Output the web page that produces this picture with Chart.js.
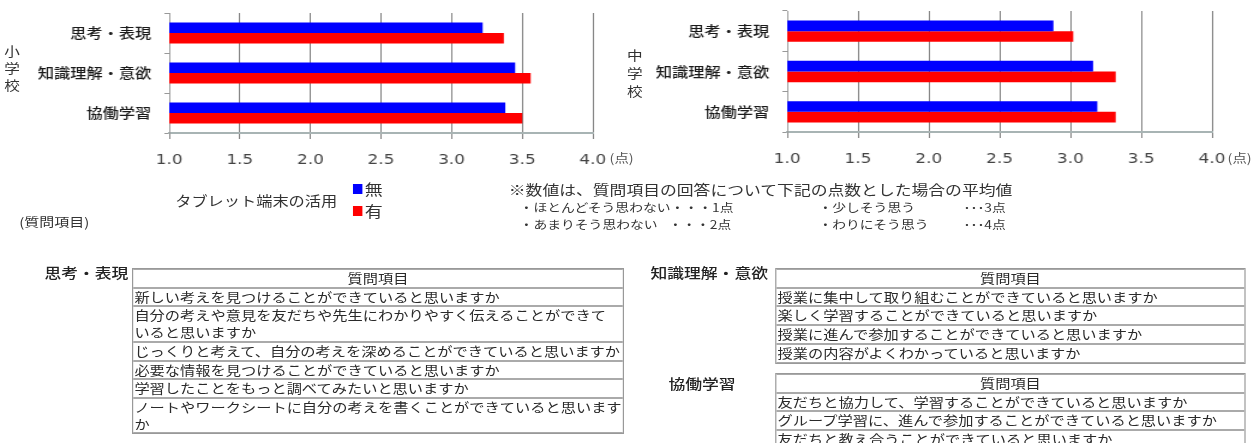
<!DOCTYPE html>
<html lang="ja">
<head>
<meta charset="utf-8">
<script src="https://cdn.jsdelivr.net/npm/chart.js@4.4.1/dist/chart.umd.min.js"></script>
<style>
  html, body { margin: 0; padding: 0; background: #fff; }
  body { width: 1258px; height: 443px; overflow: hidden; position: relative;
         font-family: "Noto Sans CJK JP", "Noto Sans", sans-serif; color: #333; }
  #wrap { position: absolute; left: 0; top: 0; width: 1048.33px; height: 443px;
          transform: scaleX(1.2); transform-origin: 0 0; }
  .abs { position: absolute; white-space: nowrap; }
  canvas { position: absolute; }
  .vert { position: absolute; width: 16px; text-align: center; font-size: 13px; line-height: 17px; color: #333; }
  .qt { position: absolute; border: 1px solid #999; border-collapse: separate; border-spacing: 0; }
  .qt td { border-top: 1px solid #aaa; border-bottom: 1px solid #aaa; padding: 0 1px;
           font-size: 12.7px; line-height: 16.7px; white-space: nowrap; color: #2a2a2a; }
  .qt td.h { text-align: center; }
  .sq { position: absolute; width: 8.3px; height: 10px; }
  .lbl { position: absolute; white-space: nowrap; font-size: 14px; line-height: 18px; color: #222; font-weight: 500; }
  .n2 { position: absolute; white-space: nowrap; font-size: 11.5px; line-height: 16px; }
</style>
</head>
<body>
<div id="wrap">
  <canvas id="c1" width="533" height="180" style="left:0;top:0;"></canvas>
  <canvas id="c2" width="508" height="180" style="left:540px;top:0;"></canvas>

  <div class="vert" style="left:2px;top:42px;">小<br>学<br>校</div>
  <div class="vert" style="left:521px;top:46px;line-height:18px;">中<br>学<br>校</div>
  <div class="abs" style="left:508px;top:150px;font-size:12px;line-height:16px;color:#555;">(点)</div>
  <div class="abs" style="left:1023px;top:150px;font-size:12px;line-height:16px;color:#555;">(点)</div>

  <div class="abs" id="legTitle" style="left:146px;top:191px;font-size:13.5px;line-height:18px;"></div>
  <div class="sq" style="left:294px;top:184px;background:#0000ff;"></div>
  <div class="sq" style="left:294px;top:206px;background:#ff0000;"></div>
  <div class="abs" id="leg0" style="left:304px;top:179px;font-size:15px;line-height:20px;"></div>
  <div class="abs" id="leg1" style="left:304px;top:201px;font-size:15px;line-height:20px;"></div>

  <div class="abs" id="note0" style="left:424px;top:180px;font-size:14px;line-height:18px;"></div>
  <div class="n2" style="left:433px;top:199px;">・ほとんどそう思わない・・・1点</div>
  <div class="n2" style="left:682px;top:199px;">・少しそう思う</div>
  <div class="n2" style="left:803px;top:199px;">･･･3点</div>
  <div class="n2" style="left:433px;top:216px;">・あまりそう思わない</div>
  <div class="n2" style="left:557px;top:216px;">・・・2点</div>
  <div class="n2" style="left:682px;top:216px;">・わりにそう思う</div>
  <div class="n2" style="left:803px;top:216px;">･･･4点</div>

  <div class="abs" style="left:16px;top:213px;font-size:12.5px;line-height:18px;">(質問項目)</div>

  <div class="lbl" style="left:37px;top:263px;">思考・表現</div>
  <table class="qt" style="left:110px;top:268px;width:407px;">
    <tr><td class="h">質問項目</td></tr>
    <tr><td>新しい考えを見つけることができていると思いますか</td></tr>
    <tr><td>自分の考えや意見を友だちや先生にわかりやすく伝えることができて<br>いると思いますか</td></tr>
    <tr><td>じっくりと考えて、自分の考えを深めることができていると思いますか</td></tr>
    <tr><td>必要な情報を見つけることができていると思いますか</td></tr>
    <tr><td>学習したことをもっと調べてみたいと思いますか</td></tr>
    <tr><td>ノートやワークシートに自分の考えを書くことができていると思います<br>か</td></tr>
  </table>

  <div class="lbl" style="left:542px;top:263px;">知識理解・意欲</div>
  <table class="qt" style="left:646px;top:268px;width:392px;">
    <tr><td class="h">質問項目</td></tr>
    <tr><td>授業に集中して取り組むことができていると思いますか</td></tr>
    <tr><td>楽しく学習することができていると思いますか</td></tr>
    <tr><td>授業に進んで参加することができていると思いますか</td></tr>
    <tr><td>授業の内容がよくわかっていると思いますか</td></tr>
  </table>

  <div class="lbl" style="left:557px;top:374px;">協働学習</div>
  <table class="qt" style="left:646px;top:373px;width:392px;">
    <tr><td class="h">質問項目</td></tr>
    <tr><td>友だちと協力して、学習することができていると思いますか</td></tr>
    <tr><td>グループ学習に、進んで参加することができていると思いますか</td></tr>
    <tr><td>友だちと教え合うことができていると思いますか</td></tr>
  </table>
</div>

<script>
// ---- data ----
const categories = ['思考・表現', '知識理解・意欲', '協働学習'];
const seriesNames = ['無', '有'];
const elementaryNone = [3.22, 3.45, 3.38];
const elementaryWith = [3.37, 3.56, 3.50];
const juniorNone = [2.88, 3.16, 3.19];
const juniorWith = [3.02, 3.32, 3.32];
const xTickLabels = ['1.0', '1.5', '2.0', '2.5', '3.0', '3.5', '4.0'];
const legendTitle = 'タブレット端末の活用';
const noteText = '※数値は、質問項目の回答について下記の点数とした場合の平均値';

document.getElementById('legTitle').textContent = legendTitle;
document.getElementById('leg0').textContent = seriesNames[0];
document.getElementById('leg1').textContent = seriesNames[1];
document.getElementById('note0').textContent = noteText;

const colors = ['#0000ff', '#ff0000'];

function makeChart(id, none, withT, yWidth, xHeight, padTop, padRight) {
  return new Chart(document.getElementById(id), {
    type: 'bar',
    data: {
      labels: categories,
      datasets: [
        { label: seriesNames[0], data: none, backgroundColor: colors[0], borderWidth: 0 },
        { label: seriesNames[1], data: withT, backgroundColor: colors[1], borderWidth: 0 }
      ]
    },
    options: {
      indexAxis: 'y',
      responsive: false,
      animation: false,
      devicePixelRatio: 1,
      categoryPercentage: 0.53,
      barPercentage: 1.0,
      layout: { padding: { left: 0, top: padTop, right: padRight, bottom: 0 } },
      plugins: { legend: { display: false }, tooltip: { enabled: false } },
      scales: {
        x: {
          min: 1, max: 4,
          afterFit: s => { s.height = xHeight; s.paddingLeft = 0; s.paddingRight = 0; },
          afterBuildTicks: s => {
            s.ticks = xTickLabels.map(t => ({ value: parseFloat(t) }));
          },
          ticks: {
            callback: (v, i) => xTickLabels[i],
            font: { family: 'DejaVu Sans', size: 14 },
            color: '#444',
            padding: 13,
            maxRotation: 0
          },
          grid: { color: '#7f7f7f', lineWidth: 1, tickLength: 6 },
          border: { color: '#a8b4b4', width: 2 }
        },
        y: {
          afterFit: s => { s.width = yWidth; s.paddingTop = 0; s.paddingBottom = 0; },
          ticks: {
            font: { family: 'Noto Sans CJK JP', size: 13.5, weight: '500' },
            color: '#1a1a1a',
            padding: 11
          },
          grid: { drawOnChartArea: false, tickLength: 4, color: '#999' },
          border: { color: '#999', width: 1 }
        }
      }
    }
  });
}

makeChart('c1', elementaryNone, elementaryWith, 141, 47, 13, 39);
makeChart('c2', juniorNone, juniorWith, 116, 48, 11, 38);
</script>
</body>
</html>
